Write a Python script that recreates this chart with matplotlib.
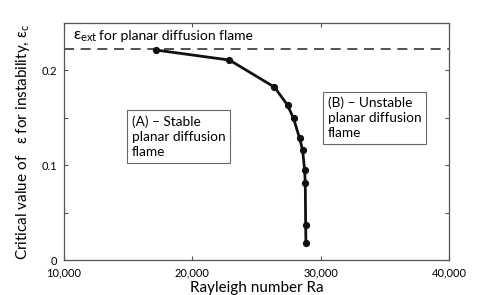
import matplotlib
matplotlib.use("Agg")
import matplotlib.pyplot as plt
from matplotlib.ticker import FixedLocator, FuncFormatter

plt.rcParams['font.family'] = ['Lato', 'DejaVu Sans']
plt.rcParams['mathtext.fontset'] = 'custom'
plt.rcParams['mathtext.rm'] = 'Lato'
plt.rcParams['mathtext.it'] = 'Lato'
plt.rcParams['mathtext.bf'] = 'Lato:bold'

# Data
rayleigh = [17190, 22890, 26400, 27420, 27890, 28360, 28590, 28750, 28800, 28830, 28850]
eps_c = [0.221, 0.2105, 0.182, 0.163, 0.149, 0.128, 0.116, 0.0947, 0.0814, 0.0368, 0.0182]
eps_ext = 0.222
x_ticks = [10000, 20000, 30000, 40000]
y_ticks = [0, 0.1, 0.2]
y_minor = [0.05, 0.15]

fig = plt.figure(figsize=(4.97, 2.95), dpi=100)
ax = fig.add_axes([0.1288, 0.1186, 0.9034 - 0.1288, 0.922 - 0.1186])

ax.axhline(eps_ext, color='#333333', lw=1.2, ls=(0, (6, 4)))
ax.plot(rayleigh, eps_c, color='#111111', lw=2, marker='o', ms=4.2)

ax.set_xlim(10000, 40000)
ax.set_ylim(0, 0.2495)
ax.xaxis.set_major_locator(FixedLocator(x_ticks))
ax.xaxis.set_major_formatter(FuncFormatter(lambda v, p: f"{int(v):,}"))
ax.yaxis.set_major_locator(FixedLocator(y_ticks))
ax.yaxis.set_minor_locator(FixedLocator(y_minor))
ax.yaxis.set_major_formatter(FuncFormatter(lambda v, p: "0" if v == 0 else f"{v:g}"))
ax.tick_params(axis='both', which='both', direction='in', length=3, width=0.8,
               color='#555555', labelsize=8, top=True, right=True, pad=5)
for s in ax.spines.values():
    s.set_color('#555555')
    s.set_linewidth(0.9)

ax.set_xlabel("Rayleigh number Ra", fontsize=11, labelpad=2)
ax.set_ylabel(r"Critical value of   $\varepsilon$ for instability, $\varepsilon_{\rm c}$",
              fontsize=11, labelpad=7)

ax.text(0.023, 0.928, r"$\varepsilon_{\rm ext}$",
        transform=ax.transAxes, fontsize=11.5, va='baseline', ha='left')
ax.text(0.09, 0.928, "for planar diffusion flame",
        transform=ax.transAxes, fontsize=10, va='baseline', ha='left')

box = dict(boxstyle='square,pad=0.35', fc='white', ec='#666666', lw=0.8)
ax.text(0.176, 0.612, "(A) – Stable\nplanar diffusion\nflame", transform=ax.transAxes,
        fontsize=9.8, va='top', ha='left', bbox=box, linespacing=1.32)
ax.text(0.685, 0.69, "(B) – Unstable\nplanar diffusion\nflame", transform=ax.transAxes,
        fontsize=9.8, va='top', ha='left', bbox=box, linespacing=1.32)

fig.savefig("out.png", dpi=100)
